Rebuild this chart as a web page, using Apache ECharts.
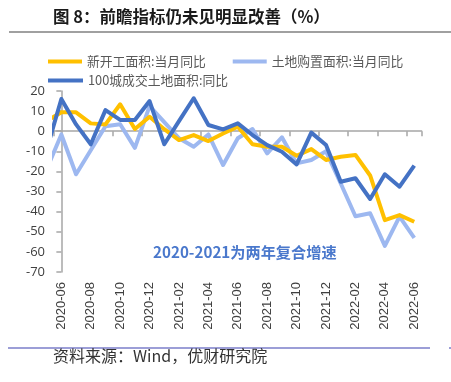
<!DOCTYPE html>
<html><head><meta charset="utf-8">
<script src="https://cdn.jsdelivr.net/npm/echarts@6/dist/echarts.min.js"></script>
<style>html,body{margin:0;padding:0;background:#fff}#c{width:451px;height:382px}</style>
</head><body><div id="c"></div>
<script>
// months: first entry (2020-05) lies just left of the plot and is clipped by it
const months = ['2020-05','2020-06','2020-07','2020-08','2020-09','2020-10','2020-11','2020-12',
  '2021-01','2021-02','2021-03','2021-04','2021-05','2021-06','2021-07','2021-08','2021-09','2021-10','2021-11','2021-12',
  '2022-01','2022-02','2022-03','2022-04','2022-05','2022-06'];
const axisMonths = months.slice(1);
const seriesNames = ['新开工面积:当月同比','土地购置面积:当月同比','100城成交土地面积:同比'];
const newStarts = [5, 9.4, 9.4, 3.9, 3.4, 13.4, 1.1, 7.2, 1, -4.4, -1.9, -4.9, -1.1, 2.2, -6.5, -7.7, -7.7,
  -12.2, -8.9, -14.3, -12.7, -11.8, -22, -44.2, -41.7, -45];
const landBuy = [-19, -1.6, -21.4, -9.5, 2.5, 3.5, -8.3, 12.5, 4.5, -3.5, -7.7, -1.6, -16.8, -3.5, 1.1, -11, -3,
  -16, -14.3, -10, -26, -42.3, -40.8, -57, -42.5, -53];
const city100 = [-9.2, 16, 3.4, -6.5, 10.5, 5.6, 5.6, 15, -6.5, 5, 16.4, 3.1, 0.9, 3.9, -1.9, -6.9, -10.2,
  -16.5, -0.7, -6.9, -25.1, -23.4, -33.7, -21.4, -27.6, -17.1];
const yTicks = {min: -70, max: 20, interval: 10};
const colors = ['#FFC000', '#9DB8F0', '#4472C4'];

const chart = echarts.init(document.getElementById('c'), null, {renderer: 'canvas'});
const toPts = arr => arr.map((v, i) => [i - 1, v]);
const mk = (name, data, color, z) => ({
  name, type: 'line', xAxisIndex: 2, yAxisIndex: 0, data: toPts(data), symbol: 'none',
  lineStyle: {color, width: 4, join: 'round'}, itemStyle: {color}, clip: true, z
});
const legendText = {color: '#595959', fontSize: 12.8, fontFamily: 'Noto Sans CJK SC'};
chart.setOption({
  animation: false,
  grid: {left: 54, right: 29.4, top: 91, bottom: 110, containLabel: false},
  legend: [
    {left: 48, top: 55, data: seriesNames.slice(0, 2), icon: 'rect', itemWidth: 34, itemHeight: 4,
     itemGap: 27, textStyle: legendText, padding: 0},
    {left: 48, top: 74, data: seriesNames.slice(2), icon: 'rect', itemWidth: 35, itemHeight: 4,
     itemGap: 27, textStyle: legendText, padding: 0}
  ],
  xAxis: [
    {type: 'category', data: axisMonths, boundaryGap: true, position: 'bottom',
     axisLine: {show: false, onZero: false}, axisTick: {show: false},
     axisLabel: {interval: 1, rotate: 90, margin: 10, fontSize: 13, color: '#404040', fontFamily: 'Liberation Sans'}},
    {type: 'category', data: axisMonths, boundaryGap: true, position: 'bottom',
     axisLine: {show: true, onZero: true, lineStyle: {color: '#A6A6A6', width: 1.5}},
     axisTick: {show: true, interval: 1, length: 5, lineStyle: {color: '#A6A6A6', width: 1.5}},
     axisLabel: {show: false}},
    {type: 'value', min: -0.5, max: 24.5, show: false}
  ],
  yAxis: [{type: 'value', min: yTicks.min, max: yTicks.max, interval: yTicks.interval,
    axisLine: {show: true, lineStyle: {color: '#A6A6A6', width: 1.5}},
    axisTick: {show: true, length: 5, lineStyle: {color: '#A6A6A6', width: 1.5}},
    splitLine: {show: false},
    axisLabel: {fontSize: 13, color: '#404040', margin: 9, fontFamily: 'Open Sans'}}],
  series: [mk(seriesNames[0], newStarts, colors[0], 3), mk(seriesNames[1], landBuy, colors[1], 2),
           mk(seriesNames[2], city100, colors[2], 4)],
  graphic: [
    {type: 'text', left: 53, top: 8, style: {text: '图 8：前瞻指标仍未见明显改善（%）', fontSize: 16.5,
      fontWeight: 'bold', fill: '#1a1a1a', fontFamily: 'Noto Sans CJK SC'}},
    {type: 'line', shape: {x1: 9, y1: 32, x2: 451, y2: 32}, style: {stroke: '#808080', lineWidth: 1.5}},
    {type: 'text', left: 153, top: 245, style: {text: '2020-2021为两年复合增速', fontSize: 15.2,
      fontWeight: 'bold', fill: '#4A78CC', fontFamily: 'Noto Sans CJK SC'}},
    {type: 'line', shape: {x1: 8, y1: 348, x2: 430, y2: 348}, style: {stroke: '#3a3fb0', lineWidth: 1.2}},
    {type: 'line', shape: {x1: 449, y1: 348, x2: 451, y2: 348}, style: {stroke: '#3a3fb0', lineWidth: 1.2}},
    {type: 'text', left: 53, top: 348, style: {text: '资料来源：Wind，优财研究院', fontSize: 16,
      fill: '#333333', fontFamily: 'Noto Sans CJK SC'}}
  ]
});
</script></body></html>
